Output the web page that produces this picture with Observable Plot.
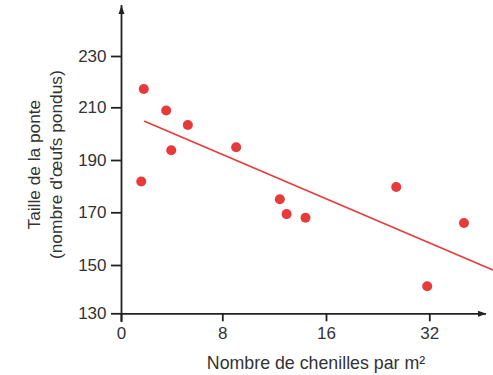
<!DOCTYPE html>
<html>
<head>
<meta charset="utf-8">
<script src="https://cdn.jsdelivr.net/npm/d3@7"></script>
<script src="https://cdn.jsdelivr.net/npm/@observablehq/plot@0.6"></script>
<style>
  html, body { margin: 0; padding: 0; background: #fff; }
</style>
</head>
<body>
<div id="chart"></div>
<script>
// Data
const chenilles = [1.56, 1.76, 3.53, 3.93, 5.24, 9.03, 12.40, 12.92, 14.38, 26.8, 31.6, 37.3];
const ponte     = [182.0, 217.3, 209.0, 193.9, 203.5, 195.0, 175.2, 169.5, 168.1, 179.9, 141.4, 166.1];
const trendX = [1.82, 41.7];
const trendY = [204.9, 148.2];
const xTicks = [0, 8, 16, 32];
const yTicks = [130, 150, 170, 190, 210, 230];
const xLabel = "Nombre de chenilles par m²";
const yLabel = "Taille de la ponte\n(nombre d'œufs pondus)";

const red = "#e8393b";
const ink = "#222";
const txt = "#333";

const points = chenilles.map((x, i) => ({x, y: ponte[i]}));
const trend = trendX.map((x, i) => ({x, y: trendY[i]}));

const upHead = {draw(ctx) { ctx.moveTo(0, -4.5); ctx.lineTo(3, 4); ctx.lineTo(-3, 4); ctx.closePath(); }};
const rightHead = {draw(ctx) { ctx.moveTo(4.5, 0); ctx.lineTo(-4, -3); ctx.lineTo(-4, 3); ctx.closePath(); }};

const W = 493, H = 375;
const mL = 121, mR = 7, mT = 5, mB = 61.7;

const chart = Plot.plot({
  width: W,
  height: H,
  marginLeft: mL,
  marginRight: mR,
  marginTop: mT,
  marginBottom: mB,
  style: {fontFamily: "'Liberation Sans', Arial, sans-serif", fontSize: "17px", color: txt, background: "#fff"},
  x: {
    type: "linear",
    domain: [0, 8, 16, 32, 40.8],
    range: [121, 222.3, 326, 429.3, 486]
  },
  y: {
    type: "linear",
    domain: [130, 150, 170, 190, 210, 230, 250],
    range: [313.3, 265, 212.3, 160, 107.3, 56, 5]
  },
  marks: [
    // axis lines
    Plot.ruleX([0], {y1: 126.4, y2: 250, stroke: ink, strokeWidth: 1.8}),
    Plot.ruleY([130], {x1: 0, x2: 40.8, stroke: ink, strokeWidth: 1.8}),
    Plot.dot([{x: 0, y: 250}], {x: "x", y: "y", symbol: upHead, dy: 4.5, fill: ink, stroke: "none"}),
    Plot.dot([{x: 40.8, y: 130}], {x: "x", y: "y", symbol: rightHead, dx: -4.5, fill: ink, stroke: "none"}),
    // axes
    Plot.axisY({ticks: yTicks, anchor: "left", tickSize: 10, tickPadding: 5, tickFormat: d => String(d), label: null, stroke: ink, strokeWidth: 1.8, fill: txt}),
    Plot.axisX({ticks: xTicks, anchor: "bottom", tickSize: 8, tickPadding: 5.4, tickFormat: d => String(d), label: null, stroke: ink, strokeWidth: 1.8, fill: txt}),
    // data
    Plot.line(trend, {x: "x", y: "y", stroke: red, strokeWidth: 1.6}),
    Plot.dot(points, {x: "x", y: "y", r: 5, fill: red, stroke: "none"}),
    // labels
    Plot.text([yLabel], {text: d => d, frameAnchor: "left", textAnchor: "middle", lineAnchor: "middle", rotate: -90, dx: -78, dy: 5, lineHeight: 1.27, fontSize: 17.3, fill: txt}),
    Plot.text([xLabel], {text: d => d, frameAnchor: "bottom", textAnchor: "middle", lineAnchor: "middle", dx: 12, dy: 49.2, fontSize: 17.8, fill: txt})
  ]
});

document.getElementById("chart").appendChild(chart);
</script>
</body>
</html>
